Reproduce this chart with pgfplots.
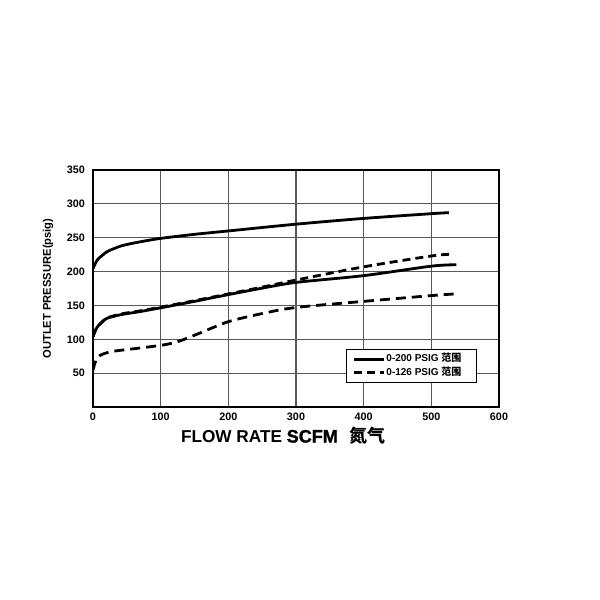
\documentclass[border=0pt]{standalone}
\usepackage{fontspec}
\setmainfont{Liberation Sans}
\newfontfamily\cjk{Noto Sans CJK SC}
\newfontfamily\heavy{Liberation Sans}[BoldFeatures={FakeBold=1.5}]
\usepackage{pgfplots}
\pgfplotsset{compat=1.18}
\begin{document}
\begin{tikzpicture}
\useasboundingbox (0,0) rectangle (300pt,300pt);
\begin{axis}[
  at={(46.5pt,96.5pt)}, anchor=south west,
  scale only axis, width=203pt, height=118.5pt,
  xmin=0, xmax=600, ymin=0, ymax=350,
  xtick={0,100,...,600}, ytick={50,100,...,350},
  grid=major, major grid style={black!65, line width=0.55pt},
  axis line style={black, line width=0.9pt},
  major tick length=0pt,
  /pgf/number format/assume math mode=true,
  tick label style={font=\bfseries\fontsize{5.4}{6}\selectfont},
  xticklabel style={yshift=0.6pt},
  yticklabel style={xshift=-0.5pt},
  xlabel={{\fontsize{8.6}{10}\selectfont\bfseries FLOW RATE \heavy\bfseries\fontsize{9}{10}\selectfont SCFM\hspace{6pt}{\cjk\bfseries 氮气}}},
  xlabel style={at={(axis description cs:0.469,-0.121)}, anchor=center},
  ylabel={\bfseries\fontsize{5.6}{6}\selectfont OUTLET PRESSURE(psig)},
  ylabel style={at={(axis description cs:-0.111,0.5)}, anchor=center},
  legend style={at={(rel axis cs:0.946,0.101)}, anchor=south east, draw=black, line width=0.6pt,
    font=\bfseries\fontsize{5}{5.5}\selectfont, inner xsep=3pt, inner ysep=1.5pt,
    nodes={inner sep=0.5pt}, row sep=0pt},
  legend cell align=left,
  legend image code/.code={\draw[#1] (0pt,0pt) -- (15pt,0pt);},
]
% 0-200 PSIG, upper
\addplot[black, line width=1.4pt, smooth] coordinates {
(0,204) (3,211) (7,218) (15,225) (22,230) (42,238) (70,244) (100,249) (150,255) (200,260) (300,270) (400,278.5) (500,285.5) (526,287)};
\addlegendentry{0-200 PSIG {\cjk\bfseries 范围}\rule{4pt}{0pt}}
% 0-126 PSIG, upper
\addplot[black, line width=1.4pt, dash pattern=on 4pt off 2.5pt, smooth] coordinates {
(0,104) (3,112) (7,119) (15,127) (22,132) (42,137.5) (70,142) (100,147.5) (150,157) (200,167) (250,177) (300,187.5) (400,207) (500,223) (528,225.5)};
\addlegendentry{0-126 PSIG {\cjk\bfseries 范围}\rule{4pt}{0pt}}
% 0-200 PSIG, lower
\addplot[black, line width=1.4pt, smooth, forget plot] coordinates {
(0,104) (3,112) (7,119) (15,127) (22,131.5) (42,136.5) (70,141) (100,146.5) (150,156) (200,166) (250,175.5) (300,184) (400,194) (500,208) (537,210)};
% 0-126 PSIG, lower
\addplot[black, line width=1.4pt, dash pattern=on 5pt off 3pt, smooth, forget plot] coordinates {
(0,54) (2,62) (5,70) (10,76) (20,80) (35,83) (60,86) (100,91) (120,95) (135,100) (160,110) (200,126) (250,138) (300,147) (400,156) (500,164.5) (535,167)};
\end{axis}
\end{tikzpicture}
\end{document}
